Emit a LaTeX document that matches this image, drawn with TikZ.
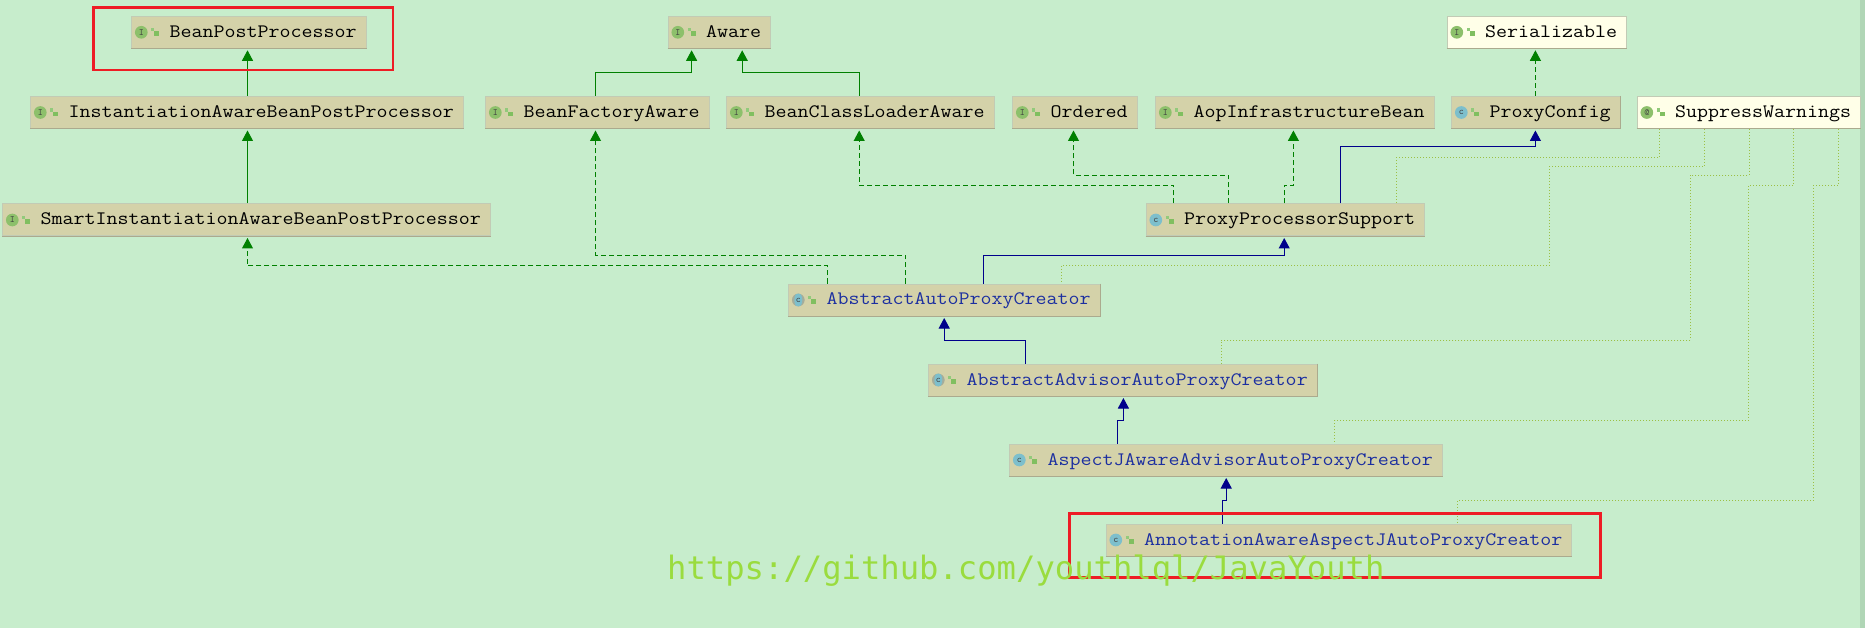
\documentclass[tikz,border=0pt]{standalone}
\usepackage{fontspec}
\newfontfamily\urlfont{DejaVu Sans Mono}
\newfontfamily\beanfont[FakeStretch=1.125]{Latin Modern Mono}
\usepackage{tikz}
\usetikzlibrary{calc,shapes,arrows.meta}
\definecolor{paper}{HTML}{C7EDCC}
\definecolor{strip}{HTML}{B0D6B6}
\definecolor{khaki}{HTML}{D4D2A9}
\definecolor{cream}{HTML}{FFFFE8}
\definecolor{rim}{HTML}{C2CBB5}
\definecolor{ledge}{HTML}{ABAA8E}
\definecolor{inherit}{HTML}{008000}
\definecolor{extend}{HTML}{00008B}
\definecolor{hint}{HTML}{9CBF45}
\definecolor{classink}{HTML}{1C2FA0}
\definecolor{mark}{HTML}{EE1C25}
\definecolor{urlgreen}{HTML}{9ADC3E}
\definecolor{ifaceicon}{HTML}{8DC06B}
\definecolor{classicon}{HTML}{7DBFCC}
\definecolor{lockicon}{HTML}{80BF60}
\tikzstyle{block} = [rectangle, draw=rim, fill=khaki, anchor=west, line width=1pt,
inner xsep=9.5pt, inner ysep=0pt, minimum height=32pt, text=black, text height=13pt, text depth=3pt,
font=\beanfont\fontsize{19}{23}\selectfont, execute at begin node=\hspace*{28.5pt}]
\tikzstyle{plain} = [block, fill=cream]
\tikzstyle{classblock} = [block, text=classink]
\tikzstyle{badge} = [circle, fill=ifaceicon, inner sep=0pt, minimum size=12.7pt,
text=black!75, font=\ttfamily\fontsize{9.5}{10}\selectfont]
\tikzstyle{cbadge} = [badge, fill=classicon]
\tikzstyle{abadge} = [badge, fill=rim!85!black, path picture={\fill [classicon] (path picture bounding box.center) ellipse (4pt and 7pt);}]
\tikzstyle{lock} = [rectangle, fill=lockicon, inner sep=0pt, minimum width=5pt, minimum height=4.5pt]
\tikzstyle{redbox} = [rectangle, draw=mark, line width=2.8pt, inner sep=0pt, outer sep=0pt, anchor=north west]
\tikzstyle{line} = [draw=inherit, line width=1pt, shorten >=1.5pt, -{Triangle[width=11pt,length=10.5pt]}]
\tikzstyle{dashline} = [line, dash pattern=on 5pt off 3pt]
\tikzstyle{navyline} = [line, draw=extend]
\tikzstyle{hintline} = [draw=hint, line width=1pt, dash pattern=on 1pt off 2pt]
% badge and lock of a box, and its lower edge
\newcommand{\boxicons}[3]{%
	\draw [ledge, line width=1pt] (#1.south west) -- (#1.south east);
	\node [#2] (#1badge) at ($(#1.west)+(10.3,0)$) {#3};
	\node [lock] (#1lock) at ($(#1.west)+(25.7,1.4)$) {};
	\fill [lockicon!75!paper] ($(#1lock.north west)+(-2.6,-3)$) rectangle ($(#1lock.north west)+(0.2,0.2)$);
}
\begin{document}
\begin{tikzpicture}[x=1pt, y=-1pt]
	\useasboundingbox (0,0) rectangle (1865,628);
	\fill [paper] (0,0) rectangle (1865,628);
	\fill [strip] (1860,0) rectangle (1865,628);
	% Place nodes
	\node [block] (bpp) at (131,32.3) {BeanPostProcessor};
	\node [block] (aware) at (667.5,32.3) {Aware};
	\node [plain] (serial) at (1446.5,32.3) {Serializable};
	\node [block] (iabpp) at (30,112.5) {InstantiationAwareBeanPostProcessor};
	\node [block] (bfa) at (485,112.5) {BeanFactoryAware};
	\node [block] (bcla) at (726,112.5) {BeanClassLoaderAware};
	\node [block] (ordered) at (1012,112.5) {Ordered};
	\node [block] (aop) at (1155,112.5) {AopInfrastructureBean};
	\node [block] (pcfg) at (1451,112.5) {ProxyConfig};
	\node [plain] (suppress) at (1636.5,112.5) {SuppressWarnings};
	\node [block] (siabpp) at (2,220) {SmartInstantiationAwareBeanPostProcessor};
	\node [block] (pps) at (1145.5,220) {ProxyProcessorSupport};
	\node [classblock] (aapc) at (788,300) {AbstractAutoProxyCreator};
	\node [classblock] (advisor) at (928,380) {AbstractAdvisorAutoProxyCreator};
	\node [classblock] (aspectj) at (1009,460) {AspectJAwareAdvisorAutoProxyCreator};
	\node [classblock] (annot) at (1105.5,540) {AnnotationAwareAspectJAutoProxyCreator};
	%
	\boxicons{bpp}{badge}{I}
	\boxicons{aware}{badge}{I}
	\boxicons{serial}{badge}{I}
	\boxicons{iabpp}{badge}{I}
	\boxicons{bfa}{badge}{I}
	\boxicons{bcla}{badge}{I}
	\boxicons{ordered}{badge}{I}
	\boxicons{aop}{badge}{I}
	\boxicons{pcfg}{cbadge}{c}
	\boxicons{suppress}{badge}{@}
	\boxicons{siabpp}{badge}{I}
	\boxicons{pps}{cbadge}{c}
	\boxicons{aapc}{abadge}{c}
	\boxicons{advisor}{abadge}{c}
	\boxicons{aspectj}{cbadge}{c}
	\boxicons{annot}{cbadge}{c}
	%
	\draw [ledge, line width=1pt] (pcfg.north east) -- (pcfg.south east);
	\draw [ledge, line width=1pt] (aapc.north east) -- (aapc.south east);
	\draw [ledge, line width=1pt] (advisor.north east) -- (advisor.south east);
	%
	\path [line] (247.5,0 |- iabpp.north) -- (247.5,0 |- bpp.south);
	\path [line] (247.5,0 |- siabpp.north) -- (247.5,0 |- iabpp.south);
	\path [line] (595.5,0 |- bfa.north) |- (691.6,72.3) -- (691.6,0 |- aware.south);
	\path [line] (859.2,0 |- bcla.north) |- (742.2,72.3) -- (742.2,0 |- aware.south);
	\path [dashline] (1535.4,0 |- pcfg.north) -- (1535.4,0 |- serial.south);
	\path [dashline] (1173.6,0 |- pps.north) |- (859.2,185.3) -- (859.2,0 |- bcla.south);
	\path [dashline] (1228.5,0 |- pps.north) |- (1073.5,175.3) -- (1073.5,0 |- ordered.south);
	\path [dashline] (1284.2,0 |- pps.north) |- (1293.4,185.3) -- (1293.4,0 |- aop.south);
	\path [navyline] (1340.4,0 |- pps.north) |- (1535.4,147) -- (1535.4,0 |- pcfg.south);
	\path [navyline] (983.4,0 |- aapc.north) |- (1284.2,255.3) -- (1284.2,0 |- pps.south);
	\path [dashline] (905.5,0 |- aapc.north) |- (595.5,255.3) -- (595.5,0 |- bfa.south);
	\path [dashline] (827.6,0 |- aapc.north) |- (247.5,265.7) -- (247.5,0 |- siabpp.south);
	\path [navyline] (1025.3,0 |- advisor.north) |- (944.2,340.3) -- (944.2,0 |- aapc.south);
	\path [navyline] (1117.4,0 |- aspectj.north) |- (1123.4,420.3) -- (1123.4,0 |- advisor.south);
	\path [navyline] (1222.2,0 |- annot.north) |- (1226.2,500.3) -- (1226.2,0 |- aspectj.south);
	%
	\path [hintline] (1659.3,0 |- suppress.south) |- (1396.2,157.3) -- (1396.2,0 |- pps.north);
	\path [hintline] (1704.4,0 |- suppress.south) |- (1549.3,166.3) |- (1061.3,265.7) -- (1061.3,0 |- aapc.north);
	\path [hintline] (1749,0 |- suppress.south) |- (1690.4,175.3) |- (1221.4,340.3) -- (1221.4,0 |- advisor.north);
	\path [hintline] (1793.2,0 |- suppress.south) |- (1748.2,185.3) |- (1334.5,420.3) -- (1334.5,0 |- aspectj.north);
	\path [hintline] (1838.3,0 |- suppress.south) |- (1813.6,185.3) |- (1457.6,500.3) -- (1457.6,0 |- annot.north);
	%
	\node [redbox, minimum width=299.3pt, minimum height=62.3pt] (topmark) at (93.7,7.7) {};
	\node [redbox, minimum width=531.1pt, minimum height=63.6pt] (bottommark) at (1069.2,513.7) {};
	\node [anchor=base west, inner sep=0pt, text=urlgreen, font=\urlfont\fontsize{32.2}{34}\selectfont] (url) at (667,579) {https://github.com/youthlql/JavaYouth};
\end{tikzpicture}
\end{document}
